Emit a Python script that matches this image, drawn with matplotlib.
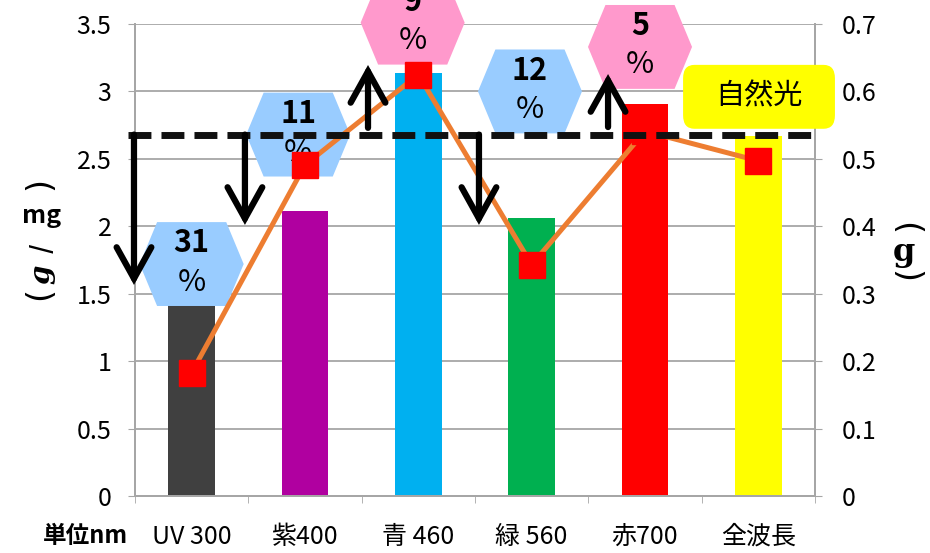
import matplotlib
matplotlib.use('Agg')
import matplotlib.pyplot as plt
from matplotlib.patches import Polygon, FancyArrowPatch, FancyBboxPatch
from matplotlib.ticker import FixedLocator

plt.rcParams['font.family'] = ['Noto Sans CJK JP', 'DejaVu Sans']

# data
categories = ['UV 300', '紫400', '青 460', '緑 560', '赤700', '全波長']
bar_values = [1.42, 2.11, 3.14, 2.06, 2.91, 2.67]
line_values = [0.183, 0.491, 0.625, 0.343, 0.541, 0.497]
bar_colors = ['#404040', '#B000A0', '#00B0F0', '#00B050', '#FF0000', '#FFFF00']
natural_ref = 2.68

left_ticks = [0, 0.5, 1, 1.5, 2, 2.5, 3, 3.5]
left_labels = ['0', '0.5', '1', '1.5', '2', '2.5', '3', '3.5']
right_ticks = [0, 0.1, 0.2, 0.3, 0.4, 0.5, 0.6, 0.7]
right_labels = ['0', '0.1', '0.2', '0.3', '0.4', '0.5', '0.6', '0.7']

# hexagon callouts: (x, y, text, colour)
callouts = [
    (0.0, 1.72, '31', '#99CCFF'),
    (0.94, 2.68, '11', '#99CCFF'),
    (1.95, 3.51, '9', '#FF99CC'),
    (2.985, 3.0, '12', '#99CCFF'),
    (3.956, 3.33, '5', '#FF99CC'),
]
# arrows: (x, start, end)
arrows = [
    (-0.509, natural_ref, 1.565),
    (0.47, natural_ref, 2.01),
    (2.535, natural_ref, 2.01),
    (1.556, 2.73, 3.196),
    (3.674, 2.736, 3.129),
]

gray = '#A6A6A6'
fig = plt.figure(figsize=(9.3, 5.53), dpi=100)
ax = fig.add_axes([135 / 930, 1 - 496 / 553, 680 / 930, 472 / 553])
x = list(range(len(categories)))
ax.bar(x, bar_values, width=0.41, color=bar_colors, zorder=2)
ax.set_xlim(-0.5, 5.5)
ax.set_ylim(0, 3.5)
ax.set_yticks(left_ticks)
ax.set_yticklabels(left_labels)
ax.set_xticks(x)
ax.set_xticklabels(categories)
ax.xaxis.set_minor_locator(FixedLocator([i - 0.5 for i in range(len(categories) + 1)]))
ax.tick_params(axis='x', which='major', length=0, pad=20, labelsize=18)
ax.tick_params(axis='x', which='minor', length=5, color=gray, direction='out')
ax.tick_params(axis='y', length=5, color=gray, direction='out', pad=12, labelsize=18)
ax.yaxis.grid(True, color=gray, lw=1.3, zorder=0)
ax.set_axisbelow(True)
for s in ['left', 'bottom', 'right']:
    ax.spines[s].set_color(gray)
    ax.spines[s].set_linewidth(1.3)
ax.spines['top'].set_visible(False)

ax2 = ax.twinx()
ax2.set_ylim(0, 0.7)
ax2.set_yticks(right_ticks)
ax2.set_yticklabels(right_labels)
ax2.tick_params(axis='y', length=5, color=gray, direction='out', pad=14, labelsize=18)
for s in ['left', 'bottom', 'right']:
    ax2.spines[s].set_color(gray)
    ax2.spines[s].set_linewidth(1.3)
ax2.spines['top'].set_visible(False)

# hexagons
hw, hi, hh = 0.459, 0.305, 0.311
for cx, cy, txt, col in callouts:
    verts = [(cx - hw, cy), (cx - hi, cy + hh), (cx + hi, cy + hh),
             (cx + hw, cy), (cx + hi, cy - hh), (cx - hi, cy - hh)]
    ax2.add_patch(Polygon(verts, closed=True, facecolor=col, edgecolor='none',
                          transform=ax.transData, clip_on=False, zorder=1))
    ax2.annotate(txt, xy=(cx, cy), xycoords=ax.transData, xytext=(0, 15),
                 textcoords='offset points', ha='center', va='center',
                 fontsize=22, fontweight='bold', zorder=2, annotation_clip=False)
    ax2.annotate('%', xy=(cx, cy), xycoords=ax.transData, xytext=(0, -13),
                 textcoords='offset points', ha='center', va='center',
                 fontsize=22, zorder=2, annotation_clip=False)

# weight line
ax2.plot(x, line_values, color='#ED7D31', lw=3.6, marker='s', ms=18.5,
         mfc='#FF0000', mec='#FF0000', zorder=3, clip_on=False)

# natural light reference
ax2.plot([-0.562, 5.5], [natural_ref, natural_ref], transform=ax.transData,
         color='#111111', lw=5, ls=(0, (3.3, 1.45)), zorder=4, clip_on=False)

for ax_x, y0, y1 in arrows:
    ax2.add_patch(FancyArrowPatch((ax_x, y0), (ax_x, y1),
                                  arrowstyle='->,head_length=0.9,head_width=0.5',
                                  mutation_scale=25, lw=4.5, color='black',
                                  capstyle='round', joinstyle='miter',
                                  shrinkA=0, shrinkB=0, transform=ax.transData,
                                  clip_on=False, zorder=5))

# natural light label
ax2.add_patch(FancyBboxPatch((5.006 - 0.67, 2.96 - 0.237), 1.34, 0.474,
                             boxstyle='round,pad=0,rounding_size=0.1',
                             facecolor='#FFFF00', edgecolor='none',
                             transform=ax.transData, clip_on=False, zorder=6))
ax2.text(5.006, 2.96, '自然光', transform=ax.transData, ha='center', va='center',
         fontsize=21, zorder=7)

# axis titles (vertical text)
def fx(px):
    return px / 930

def fy(py):
    return 1 - py / 553

fig.text(fx(40), fy(294), '(', rotation=90, ha='center', va='center', fontsize=24,
         family='DejaVu Sans')
fig.text(fx(42), fy(274), 'g', rotation=90, ha='center', va='center', fontsize=20,
         fontweight='bold', fontstyle='italic', family='DejaVu Serif')
fig.text(fx(42), fy(248), '/', rotation=90, ha='center', va='center', fontsize=18, fontweight='bold')
fig.text(fx(42), fy(216), 'mg', ha='center', va='center', fontsize=18, fontweight='bold')
fig.text(fx(40), fy(183), ')', rotation=90, ha='center', va='center', fontsize=24,
         family='DejaVu Sans')

fig.text(fx(905), fy(229), '(', rotation=-90, ha='center', va='center', fontsize=24,
         family='DejaVu Sans')
fig.text(fx(904), fy(252), 'g', ha='center', va='center', fontsize=23, fontweight='bold',
         family='DejaVu Serif')
fig.text(fx(905), fy(277), ')', rotation=-90, ha='center', va='center', fontsize=24,
         family='DejaVu Sans')

fig.text(fx(85), fy(536), '単位nm', ha='center', va='center', fontsize=17, fontweight='bold')

fig.savefig('out.png', dpi=100)
